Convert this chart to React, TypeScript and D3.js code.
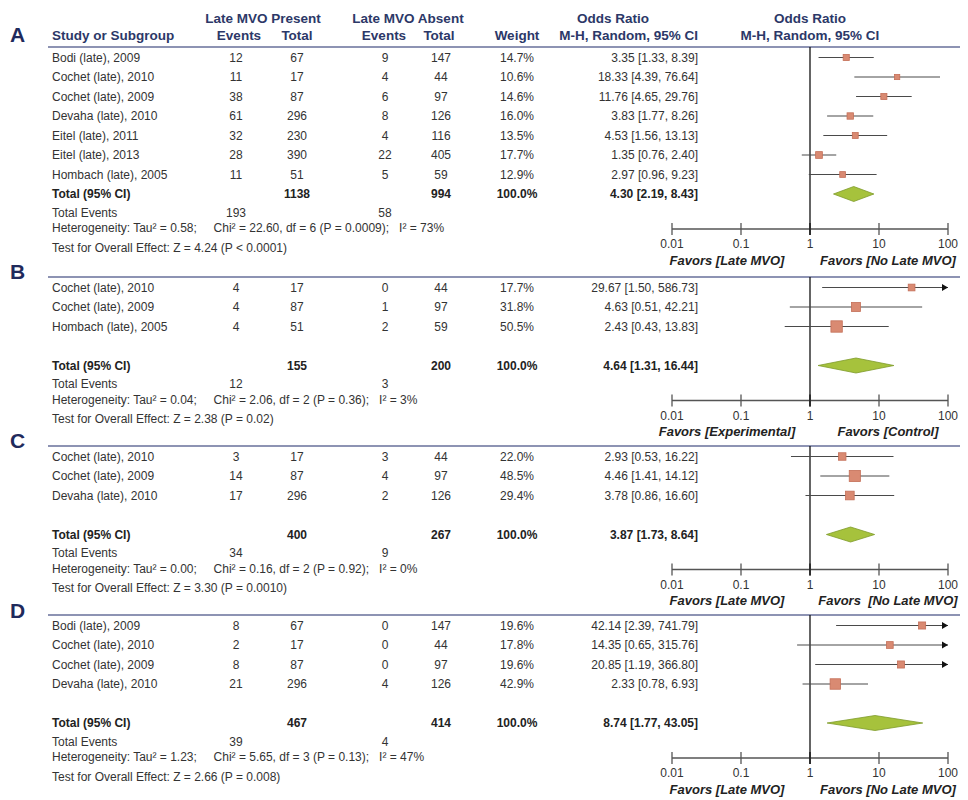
import React from "react";
import * as d3 from "d3";

type Study = { name: string; e1: number; n1: number; e2: number; n2: number; w: number; or: number; lo: number; hi: number };

const studiesA: Study[] = [
  { name: "Bodi (late), 2009", e1: 12, n1: 67, e2: 9, n2: 147, w: 14.7, or: 3.35, lo: 1.33, hi: 8.39 },
  { name: "Cochet (late), 2010", e1: 11, n1: 17, e2: 4, n2: 44, w: 10.6, or: 18.33, lo: 4.39, hi: 76.64 },
  { name: "Cochet (late), 2009", e1: 38, n1: 87, e2: 6, n2: 97, w: 14.6, or: 11.76, lo: 4.65, hi: 29.76 },
  { name: "Devaha (late), 2010", e1: 61, n1: 296, e2: 8, n2: 126, w: 16.0, or: 3.83, lo: 1.77, hi: 8.26 },
  { name: "Eitel (late), 2011", e1: 32, n1: 230, e2: 4, n2: 116, w: 13.5, or: 4.53, lo: 1.56, hi: 13.13 },
  { name: "Eitel (late), 2013", e1: 28, n1: 390, e2: 22, n2: 405, w: 17.7, or: 1.35, lo: 0.76, hi: 2.4 },
  { name: "Hombach (late), 2005", e1: 11, n1: 51, e2: 5, n2: 59, w: 12.9, or: 2.97, lo: 0.96, hi: 9.23 },
];
const studiesB: Study[] = [
  { name: "Cochet (late), 2010", e1: 4, n1: 17, e2: 0, n2: 44, w: 17.7, or: 29.67, lo: 1.5, hi: 586.73 },
  { name: "Cochet (late), 2009", e1: 4, n1: 87, e2: 1, n2: 97, w: 31.8, or: 4.63, lo: 0.51, hi: 42.21 },
  { name: "Hombach (late), 2005", e1: 4, n1: 51, e2: 2, n2: 59, w: 50.5, or: 2.43, lo: 0.43, hi: 13.83 },
];
const studiesC: Study[] = [
  { name: "Cochet (late), 2010", e1: 3, n1: 17, e2: 3, n2: 44, w: 22.0, or: 2.93, lo: 0.53, hi: 16.22 },
  { name: "Cochet (late), 2009", e1: 14, n1: 87, e2: 4, n2: 97, w: 48.5, or: 4.46, lo: 1.41, hi: 14.12 },
  { name: "Devaha (late), 2010", e1: 17, n1: 296, e2: 2, n2: 126, w: 29.4, or: 3.78, lo: 0.86, hi: 16.6 },
];
const studiesD: Study[] = [
  { name: "Bodi (late), 2009", e1: 8, n1: 67, e2: 0, n2: 147, w: 19.6, or: 42.14, lo: 2.39, hi: 741.79 },
  { name: "Cochet (late), 2010", e1: 2, n1: 17, e2: 0, n2: 44, w: 17.8, or: 14.35, lo: 0.65, hi: 315.76 },
  { name: "Cochet (late), 2009", e1: 8, n1: 87, e2: 0, n2: 97, w: 19.6, or: 20.85, lo: 1.19, hi: 366.8 },
  { name: "Devaha (late), 2010", e1: 21, n1: 296, e2: 4, n2: 126, w: 42.9, or: 2.33, lo: 0.78, hi: 6.93 },
];

// totals: [n1, n2, or, lo, hi, events1, events2]
const totalsA = [1138, 994, 4.3, 2.19, 8.43, 193, 58];
const totalsB = [155, 200, 4.64, 1.31, 16.44, 12, 3];
const totalsC = [400, 267, 3.87, 1.73, 8.64, 34, 9];
const totalsD = [467, 414, 8.74, 1.77, 43.05, 39, 4];

const hetA = ["Tau² = 0.58;", "Chi² = 22.60, df = 6 (P = 0.0009);", "I² = 73%"];
const hetB = ["Tau² = 0.04;", "Chi² = 2.06, df = 2 (P = 0.36);", "I² = 3%"];
const hetC = ["Tau² = 0.00;", "Chi² = 0.16, df = 2 (P = 0.92);", "I² = 0%"];
const hetD = ["Tau² = 1.23;", "Chi² = 5.65, df = 3 (P = 0.13);", "I² = 47%"];

const testA = "Z = 4.24 (P < 0.0001)";
const testB = "Z = 2.38 (P = 0.02)";
const testC = "Z = 3.30 (P = 0.0010)";
const testD = "Z = 2.66 (P = 0.008)";

const favorsA = ["Favors [Late MVO]", "Favors [No Late MVO]"];
const favorsB = ["Favors [Experimental]", "Favors [Control]"];
const favorsC = ["Favors [Late MVO]", "Favors  [No Late MVO]"];
const favorsD = ["Favors [Late MVO]", "Favors [No Late MVO]"];

const tickValues = [0.01, 0.1, 1, 10, 100];
const tickLabels = ["0.01", "0.1", "1", "10", "100"];

const panels = [
  { letter: "A", top: 47, letterY: 42, studies: studiesA, gap: false, totals: totalsA, het: hetA, test: testA, favors: favorsA },
  { letter: "B", top: 277, letterY: 279, studies: studiesB, gap: true, totals: totalsB, het: hetB, test: testB, favors: favorsB },
  { letter: "C", top: 446, letterY: 448, studies: studiesC, gap: true, totals: totalsC, het: hetC, test: testC, favors: favorsC },
  { letter: "D", top: 615, letterY: 618, studies: studiesD, gap: true, totals: totalsD, het: hetD, test: testD, favors: favorsD },
];

const FONT = "'Liberation Sans', Arial, Helvetica, sans-serif";
const NAVY = "#2c3868";
const TXT = "#333333";
const LINE = "#8d93b3";
const BODY = 12;

const colX = { name: 52, e1: 236, n1: 297, e2: 385, n2: 441, w: 517, orRight: 698 };

const x = d3.scaleLog().domain([0.01, 100]).range([672, 948]);
const fmt2 = d3.format(".2f");
const fmt1 = d3.format(".1f");

const ROW0 = 10.5;
const ROWH = 19.5;

function Panel({ p }: { p: (typeof panels)[number] }) {
  const rowY = (i: number) => p.top + ROW0 + i * ROWH;
  const totalY = rowY(p.studies.length + (p.gap ? 1 : 0));
  const teY = totalY + 18.5;
  const hetY = totalY + 34;
  const testY = totalY + 53.5;
  const axisY = totalY + 35;
  const [tn1, tn2, tor, tlo, thi, te1, te2] = p.totals;
  const x1 = x(1);
  const dH = 7.5;
  return (
    <g>
      <text x={10} y={p.letterY} fontSize={21} fontWeight="bold" fill="#1f2a5c" fontFamily={FONT}>
        {p.letter}
      </text>
      <line x1={48} x2={960} y1={p.top} y2={p.top} stroke={LINE} strokeWidth={2} />
      <line x1={x1} x2={x1} y1={p.top} y2={axisY + 6} stroke="#111" strokeWidth={1.3} />
      {p.studies.map((s, i) => {
        const y = rowY(i);
        const side = 1.6 * Math.sqrt(s.w);
        const hiC = Math.min(s.hi, 100);
        const loC = Math.max(s.lo, 0.01);
        return (
          <g key={i} fontFamily={FONT} fontSize={BODY} fill={TXT}>
            <text x={colX.name} y={y} dy="0.35em">{s.name}</text>
            <text x={colX.e1} y={y} dy="0.35em" textAnchor="middle">{s.e1}</text>
            <text x={colX.n1} y={y} dy="0.35em" textAnchor="middle">{s.n1}</text>
            <text x={colX.e2} y={y} dy="0.35em" textAnchor="middle">{s.e2}</text>
            <text x={colX.n2} y={y} dy="0.35em" textAnchor="middle">{s.n2}</text>
            <text x={colX.w} y={y} dy="0.35em" textAnchor="middle">{fmt1(s.w)}%</text>
            <text x={colX.orRight} y={y} dy="0.35em" textAnchor="end">
              {`${fmt2(s.or)} [${fmt2(s.lo)}, ${fmt2(s.hi)}]`}
            </text>
            <line x1={x(loC)} x2={x(hiC)} y1={y} y2={y} stroke="#4a4a4a" strokeWidth={1.2} />
            {s.hi > 100 && (
              <path d={`M${x(100) - 6},${y - 3.5} L${x(100)},${y} L${x(100) - 6},${y + 3.5} Z`} fill="#111" />
            )}
            <rect
              x={x(s.or) - side / 2}
              y={y - side / 2}
              width={side}
              height={side}
              fill="#d98a72"
              stroke="#c46f58"
              strokeWidth={0.8}
            />
          </g>
        );
      })}
      <g fontFamily={FONT} fontSize={BODY} fill="#222" fontWeight="bold">
        <text x={colX.name} y={totalY} dy="0.35em">Total (95% CI)</text>
        <text x={colX.n1} y={totalY} dy="0.35em" textAnchor="middle">{tn1}</text>
        <text x={colX.n2} y={totalY} dy="0.35em" textAnchor="middle">{tn2}</text>
        <text x={colX.w} y={totalY} dy="0.35em" textAnchor="middle">100.0%</text>
        <text x={colX.orRight} y={totalY} dy="0.35em" textAnchor="end">
          {`${fmt2(tor)} [${fmt2(tlo)}, ${fmt2(thi)}]`}
        </text>
      </g>
      <path
        d={`M${x(tlo)},${totalY} L${x(tor)},${totalY - dH} L${x(thi)},${totalY} L${x(tor)},${totalY + dH} Z`}
        fill="#a6c23c"
        stroke="#7d9a2a"
        strokeWidth={0.8}
      />
      <g fontFamily={FONT} fontSize={BODY} fill={TXT}>
        <text x={colX.name} y={teY} dy="0.35em">Total Events</text>
        <text x={colX.e1} y={teY} dy="0.35em" textAnchor="middle">{te1}</text>
        <text x={colX.e2} y={teY} dy="0.35em" textAnchor="middle">{te2}</text>
        <text x={colX.name} y={hetY} dy="0.35em" xmlSpace="preserve">
          {`Heterogeneity: ${p.het[0]}\u00a0\u00a0\u00a0\u00a0 ${p.het[1]}\u00a0\u00a0 ${p.het[2]}`}
        </text>
        <text x={colX.name} y={testY} dy="0.35em">{`Test for Overall Effect: ${p.test}`}</text>
      </g>
      <line x1={x(0.01)} x2={x(100)} y1={axisY} y2={axisY} stroke="#555" strokeWidth={1.4} />
      {tickValues.map((t, i) => (
        <g key={t}>
          <line x1={x(t)} x2={x(t)} y1={axisY - 6} y2={axisY + 6} stroke={t === 1 ? "#111" : "#555"} strokeWidth={1.3} />
          <text x={x(t)} y={axisY + 15} dy="0.35em" textAnchor="middle" fontFamily={FONT} fontSize={BODY} fill={TXT}>
            {tickLabels[i]}
          </text>
        </g>
      ))}
      <g fontFamily={FONT} fontSize={13} fontWeight="bold" fontStyle="italic" fill="#222">
        <text x={x1 - 83} y={axisY + 31} dy="0.35em" textAnchor="middle" xmlSpace="preserve">{p.favors[0]}</text>
        <text x={x1 + 78} y={axisY + 31} dy="0.35em" textAnchor="middle" xmlSpace="preserve">{p.favors[1].replace("  ", "\u00a0 ")}</text>
      </g>
    </g>
  );
}

export default function App() {
  return (
    <svg width={968} height={800} style={{ position: "absolute", left: 0, top: 0, background: "#fff" }}>
      <rect width={968} height={800} fill="#fff" />
      <g fontFamily={FONT} fontSize={13.5} fontWeight="bold" fill={NAVY}>
        <text x={263} y={18} dy="0.35em" textAnchor="middle">Late MVO Present</text>
        <text x={408} y={18} dy="0.35em" textAnchor="middle">Late MVO Absent</text>
        <text x={613} y={18} dy="0.35em" textAnchor="middle">Odds Ratio</text>
        <text x={x(1)} y={18} dy="0.35em" textAnchor="middle">Odds Ratio</text>
        <text x={52} y={35} dy="0.35em">Study or Subgroup</text>
        <text x={239} y={35} dy="0.35em" textAnchor="middle">Events</text>
        <text x={297} y={35} dy="0.35em" textAnchor="middle">Total</text>
        <text x={384} y={35} dy="0.35em" textAnchor="middle">Events</text>
        <text x={439} y={35} dy="0.35em" textAnchor="middle">Total</text>
        <text x={517} y={35} dy="0.35em" textAnchor="middle">Weight</text>
        <text x={698} y={35} dy="0.35em" textAnchor="end">M-H, Random, 95% CI</text>
        <text x={x(1)} y={35} dy="0.35em" textAnchor="middle">M-H, Random, 95% CI</text>
      </g>
      {panels.map((p) => (
        <Panel key={p.letter} p={p} />
      ))}
    </svg>
  );
}
